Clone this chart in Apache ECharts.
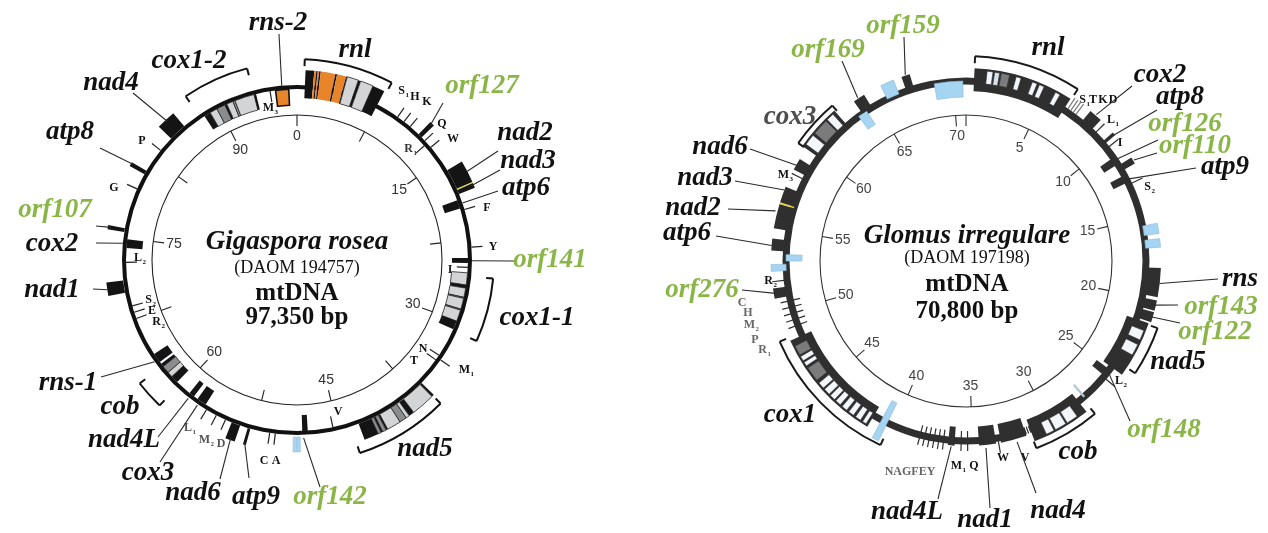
<!DOCTYPE html>
<html>
<head>
<meta charset="utf-8">
<script src="https://cdn.jsdelivr.net/npm/echarts@6/dist/echarts.min.js"></script>
<style>
html,body{margin:0;padding:0;background:#fff;}
#chart{width:1268px;height:533px;}
</style>
</head>
<body>
<div id="chart"></div>
<script>
// ---------- Gigaspora rosea mtDNA (kb positions, clockwise from top) ----------
const GR_LENGTH = 97.35;
const GR_TICK_LABELS = [0, 15, 30, 45, 60, 75, 90];

// [gene, start kb, end kb, strand track, part]
const GR_BLOCKS = [
  ['rnl', 0.70, 1.42, 'mid', 'k'], ['rnl', 1.42, 1.58, 'mid', 'o'], ['rnl', 1.58, 1.70, 'mid', 'k'],
  ['rnl', 1.70, 1.82, 'mid', 'o'], ['rnl', 1.82, 1.95, 'mid', 'k'], ['rnl', 1.95, 3.15, 'mid', 'o'],
  ['rnl', 3.15, 3.30, 'mid', 'k'], ['rnl', 3.30, 4.05, 'mid', 'o'], ['rnl', 4.05, 4.15, 'mid', 'k'],
  ['rnl', 4.15, 5.10, 'mid', 'lg'], ['rnl', 5.10, 5.30, 'mid', 'k'], ['rnl', 5.30, 6.38, 'mid', 'lg'],
  ['rnl', 6.38, 7.40, 'mid', 'k'],
  ['orf127', 11.9, 12.3, 'out', 'k'],
  ['nad2', 16.0, 17.85, 'out', 'k'], ['nad2', 17.85, 17.95, 'out', 'y'], ['nad3', 17.95, 18.35, 'out', 'k'],
  ['atp6', 18.8, 19.6, 'in', 'k'],
  ['orf141', 24.15, 24.6, 'in', 'k'],
  ['cox1-1', 25.5, 26.6, 'in', 'lg'], ['cox1-1', 26.6, 26.9, 'in', 'k'], ['cox1-1', 26.9, 27.75, 'in', 'lg'],
  ['cox1-1', 27.75, 27.85, 'in', 'g'], ['cox1-1', 27.85, 28.85, 'in', 'lg'], ['cox1-1', 28.85, 28.95, 'in', 'g'],
  ['cox1-1', 28.95, 30.0, 'in', 'lg'], ['cox1-1', 30.0, 30.8, 'in', 'k'],
  ['nad5', 36.4, 36.6, 'out', 'k'], ['nad5', 36.6, 38.55, 'out', 'lg'], ['nad5', 38.55, 39.0, 'out', 'k'],
  ['nad5', 39.0, 39.3, 'out', 'lg'], ['nad5', 39.3, 39.9, 'out', 'g'], ['nad5', 39.9, 41.05, 'out', 'lg'],
  ['nad5', 41.05, 41.2, 'out', 'k'], ['nad5', 41.2, 41.5, 'out', 'g'], ['nad5', 41.5, 41.65, 'out', 'k'],
  ['nad5', 41.65, 41.9, 'out', 'g'], ['nad5', 41.9, 43.1, 'out', 'k'],
  ['orf', 47.7, 48.2, 'in', 'k'],
  ['orf142', 48.4, 48.68, 'out', 'b'], ['orf142', 48.72, 49.0, 'out', 'b'],
  ['atp9', 52.85, 53.1, 'out', 'k'],
  ['nad6', 53.8, 54.6, 'out', 'k'],
  ['cox3', 57.4, 58.3, 'in', 'k'],
  ['nad4L', 58.7, 59.2, 'in', 'k'],
  ['cob', 60.7, 61.4, 'in', 'k'], ['cob', 61.4, 61.9, 'in', 'lg'], ['cob', 61.9, 62.6, 'in', 'g'], ['cob', 62.6, 62.9, 'in', 'k'],
  ['rns-1', 63.1, 64.0, 'in', 'k'],
  ['nad1', 70.1, 71.2, 'out', 'k'],
  ['cox2', 74.1, 74.9, 'in', 'k'],
  ['orf107', 75.5, 75.85, 'out', 'k'],
  ['atp8', 80.95, 81.3, 'out', 'k'],
  ['nad4', 84.9, 86.5, 'out', 'k'],
  ['cox1-2', 88.5, 89.1, 'in', 'k'], ['cox1-2', 89.1, 89.8, 'in', 'lg'], ['cox1-2', 89.8, 90.6, 'in', 'g'],
  ['cox1-2', 90.6, 90.8, 'in', 'k'], ['cox1-2', 90.8, 91.4, 'in', 'lg'], ['cox1-2', 91.4, 91.6, 'in', 'g'],
  ['cox1-2', 91.6, 93.4, 'in', 'lg'], ['cox1-2', 93.4, 93.6, 'in', 'k'],
  ['rns-2', 95.4, 96.6, 'in', 'ob']
];

// tRNA genes: [name, kb, track]
const GR_TRNAS = [
  ['S1', 9.5, 'out'], ['H', 10.2, 'out'], ['K', 10.9, 'out'], ['Q', 12.7, 'out'], ['R1', 13.0, 'in'],
  ['W', 13.5, 'out'], ['F', 19.8, 'out'], ['Y', 23.2, 'out'], ['I', 25.0, 'in'], ['N', 33.5, 'in'],
  ['M1', 33.75, 'out'], ['T', 34.0, 'in'], ['V', 45.4, 'in'], ['A', 50.6, 'out'], ['C', 51.1, 'out'],
  ['D', 55.2, 'out'], ['M2', 56.1, 'out'], ['L1', 57.1, 'out'], ['R2', 67.6, 'in'], ['E', 68.2, 'in'],
  ['S2', 68.8, 'in'], ['L2', 72.8, 'in'], ['G', 79.5, 'out'], ['P', 83.5, 'out'], ['M3', 94.9, 'in']
];

// bracketed multi-part genes: [gene, start kb, end kb]
const GR_BRACKETS = [['rnl', 0.6, 7.6], ['cox1-2', 88.1, 93.4], ['cox1-1', 25.8, 30.9], ['nad5', 36.5, 43.8], ['cob', 60.4, 62.7]];

// gene names: [name, kb the leader points to (null = no leader)]
const GR_LABELS = [
  ['rns-2', 96.0], ['rnl', null], ['cox1-2', null], ['nad4', 85.7], ['atp8', 81.2], ['orf107', 75.7],
  ['cox2', 74.5], ['nad1', 70.6], ['rns-1', 63.4], ['cob', null], ['nad4L', 59.0], ['cox3', 58.0],
  ['nad6', 54.2], ['atp9', 53.0], ['orf142', 48.1], ['nad5', null], ['cox1-1', null], ['orf141', 24.4],
  ['atp6', 19.2], ['nad3', 18.1], ['nad2', 16.9], ['orf127', 12.1]
];

// ---------- Glomus irregulare mtDNA ----------
const GI_LENGTH = 70.8;
const GI_TICK_LABELS = [5, 10, 15, 20, 25, 30, 35, 40, 45, 50, 55, 60, 65, 70];

const GI_BLOCKS = [
  ['rnl', 0.5, 6.45, 'mid', 'k'],
  ['cox2', 7.8, 8.6, 'out', 'k'],
  ['atp8', 9.6, 9.8, 'out', 'k'],
  ['orf126', 10.8, 11.3, 'in', 'k'],
  ['orf110', 11.4, 11.8, 'out', 'k'],
  ['atp9', 12.1, 12.6, 'in', 'k'],
  ['orf', 15.5, 16.1, 'out', 'b'], ['orf', 16.4, 16.9, 'out', 'b'],
  ['rns', 18.1, 19.8, 'out', 'k'],
  ['orf143', 20.0, 20.6, 'out', 'k'],
  ['orf122', 20.7, 21.3, 'out', 'k'],
  ['nad5', 21.4, 24.8, 'mid', 'k'],
  ['orf148', 25.0, 25.5, 'in', 'k'],
  ['orf', 27.25, 27.4, 'in', 'bg'],
  ['cob', 27.8, 31.3, 'mid', 'k'],
  ['nad4', 31.65, 33.25, 'inmid', 'k'],
  ['nad1', 33.55, 34.6, 'inmid', 'k'],
  ['nad4L', 36.1, 36.5, 'inmid', 'k'],
  ['cox1', 41.45, 48.3, 'mid', 'k'],
  ['orf', 40.5, 40.9, 'cross', 'b'],
  ['orf276', 50.9, 51.5, 'out', 'k'],
  ['orf', 52.5, 52.9, 'out', 'b'], ['orf', 53.1, 53.5, 'in', 'b'],
  ['atp6', 53.7, 54.4, 'out', 'k'],
  ['nad2', 55.0, 56.45, 'out', 'k'], ['nad2', 56.45, 56.55, 'out', 'y'], ['nad3', 56.55, 57.5, 'out', 'k'],
  ['nad6', 58.6, 59.3, 'out', 'k'],
  ['cox3', 60.0, 62.7, 'wide', 'k'],
  ['orf', 63.6, 64.2, 'in', 'b'],
  ['orf169', 63.9, 64.6, 'out', 'k'],
  ['orf', 65.7, 66.5, 'out', 'b'],
  ['orf159', 67.0, 67.5, 'out', 'k'],
  ['orf', 68.8, 70.6, 'in', 'b']
];

// exon/intron windows inside the large genes: [gene, start kb, end kb, part, track]
const GI_WINDOWS = [
  ['rnl', 1.25, 1.6, 'w', 'mid'], ['rnl', 1.7, 2.0, 'p', 'mid'], ['rnl', 2.1, 2.6, 'g', 'mid'], ['rnl', 3.0, 3.3, 'w', 'mid'],
  ['rnl', 4.0, 4.3, 'w', 'mid'], ['rnl', 4.45, 4.75, 'w', 'mid'], ['rnl', 5.5, 5.8, 'w', 'mid'],
  ['nad5', 21.9, 22.5, 'w', 'mid'], ['nad5', 22.8, 23.5, 'w', 'mid'],
  ['cob', 28.4, 29.1, 'w', 'mid'], ['cob', 29.2, 29.9, 'w', 'mid'], ['cob', 30.0, 30.5, 'w', 'mid'],
  ['cox1', 41.6, 41.85, 'w', 'mid'], ['cox1', 42.0, 42.35, 'w', 'mid'], ['cox1', 42.5, 42.85, 'w', 'mid'],
  ['cox1', 43.0, 43.35, 'w', 'mid'], ['cox1', 43.5, 43.85, 'w', 'mid'], ['cox1', 43.95, 44.3, 'w', 'mid'],
  ['cox1', 44.4, 44.8, 'w', 'mid'], ['cox1', 44.9, 45.3, 'w', 'mid'], ['cox1', 45.5, 46.4, 'g', 'mid'],
  ['cox1', 46.55, 46.8, 'w', 'mid'], ['cox1', 46.9, 47.2, 'w', 'mid'], ['cox1', 47.3, 47.9, 'g', 'mid'],
  ['cox3', 60.2, 60.85, 'w', 'wide'], ['cox3', 61.0, 61.95, 'g', 'wide'], ['cox3', 62.05, 62.5, 'w', 'wide']
];

const GI_TRNAS = [
  ['S1', 6.65, 'outg'], ['T', 6.85, 'outg'], ['K', 7.05, 'outg'], ['D', 7.25, 'outg'],
  ['L1', 8.9, 'out'], ['I', 10.1, 'out'], ['S2', 12.75, 'out'], ['L2', 25.6, 'out'],
  ['V', 31.4, 'gap'], ['V', 31.55, 'gap'], ['W', 33.4, 'out'],
  ['Q', 35.3, 'cross'], ['M1', 35.7, 'cross'],
  ['Y', 36.8, 'cross'], ['E', 37.1, 'cross'], ['F', 37.4, 'cross'], ['G', 37.7, 'cross'], ['A', 38.0, 'cross'], ['N', 38.3, 'cross'],
  ['R1', 49.0, 'cross'], ['P', 49.4, 'cross'], ['M2', 49.8, 'cross'], ['H', 50.2, 'cross'], ['C', 50.6, 'cross'],
  ['R2', 51.9, 'out'], ['M3', 58.35, 'out']
];

const GI_BRACKETS = [['rnl', 0.5, 6.5], ['cox3', 60.0, 62.8], ['cox1', 40.3, 48.5], ['cob', 27.5, 31.35], ['nad5', 21.5, 24.3]];

const GI_LABELS = [
  ['orf159', 67.25], ['orf169', 64.2], ['rnl', null], ['cox3', null], ['nad6', 58.9], ['nad3', 57.3],
  ['nad2', 56.0], ['atp6', 54.0], ['orf276', 51.2], ['cox1', null], ['nad4L', 36.3], ['nad1', 34.2],
  ['nad4', 32.3], ['cob', null], ['orf148', 25.25], ['nad5', null], ['orf122', 21.0], ['orf143', 20.3],
  ['rns', 19.0], ['atp9', 12.35], ['orf110', 11.6], ['orf126', 11.0], ['atp8', 9.7], ['cox2', 8.2]
];

// ---------- layout & styles ----------
const GREEN = '#8ab648';
const GENE_FONT = 'italic bold 27px "Liberation Serif"';
const TAG_FONT = 'bold 12px "Liberation Serif"';
const SUB_FONT = 'bold 7px "Liberation Serif"';
const TICK_FONT = '14px "Liberation Sans"';

const GR_LOOK = {
  ring: [171, 175], ringColor: '#111',
  tracks: { out: [175, 192], in: [155, 171], mid: [162, 190] },
  trna: { out: [175, 186, '#222'], in: [160, 171, '#222'] },
  fills: {
    k: { fill: '#141414' }, o: { fill: '#e8842a' },
    ob: { fill: '#e8842a', stroke: '#111', lw: 1.6 },
    lg: { fill: '#d3d4d6', stroke: '#222', lw: 0.8 }, g: { fill: '#8b8c8e', stroke: '#222', lw: 0.8 },
    y: { fill: '#e2d13c' }, b: { fill: '#a9d6f0', stroke: '#8dbfdc', lw: 0.6, inset: 2 }
  },
  bracketR: { 'rnl': 201, 'cox1-2': 198, 'cox1-1': 197, 'nad5': 203, 'cob': 200 },
  bracketColor: '#111', tickLabelR: 124, tickLabelColor: '#333',
  labels: {
    'rns-2': { x: 278, y: 23, r: 175, lx: 279, ly: 34 },
    'rnl': { x: 355, y: 50 },
    'cox1-2': { x: 189, y: 61 },
    'nad4': { x: 111, y: 83, r: 190, lx: 133, ly: 93 },
    'atp8': { x: 70, y: 132, r: 190, lx: 100, ly: 148 },
    'orf107': { x: 55, y: 210, r: 189, lx: 96, ly: 226, color: GREEN },
    'cox2': { x: 52, y: 244, r: 175, lx: 96, ly: 243 },
    'nad1': { x: 52, y: 290, r: 192, lx: 93, ly: 289 },
    'rns-1': { x: 68, y: 383, r: 175, lx: 101, ly: 377 },
    'cob': { x: 120, y: 407 },
    'nad4L': { x: 124, y: 440, r: 176, lx: 158, ly: 437 },
    'cox3': { x: 148, y: 473, r: 176, lx: 160, ly: 462 },
    'nad6': { x: 193, y: 493, r: 190, lx: 220, ly: 479 },
    'atp9': { x: 256, y: 497, r: 190, lx: 249, ly: 478 },
    'orf142': { x: 330, y: 497, r: 178, lx: 320, ly: 487, color: GREEN },
    'nad5': { x: 425, y: 449 },
    'cox1-1': { x: 537, y: 318 },
    'orf141': { x: 550, y: 260, r: 175, lx: 514, ly: 261, color: GREEN },
    'atp6': { x: 526, y: 188, r: 175, lx: 498, ly: 191 },
    'nad3': { x: 528, y: 161, r: 190, lx: 500, ly: 170 },
    'nad2': { x: 525, y: 133, r: 192, lx: 498, ly: 151 },
    'orf127': { x: 482, y: 86, r: 189, lx: 443, ly: 103, color: GREEN }
  }
};

const GI_LOOK = {
  ring: [176.5, 183.5], ringColor: '#2f2f2f',
  tracks: { out: [180, 195], in: [164, 180], mid: [170, 193], inmid: [166, 185], wide: [180, 200], cross: [158, 200] },
  windowR: { mid: [178, 191], wide: [183, 198] },
  trna: { out: [183, 195, '#2f2f2f'], outg: [183, 196, '#7a7a7a'], cross: [170, 190, '#2f2f2f'], gap: [168, 192, '#ffffff'] },
  fills: {
    k: { fill: '#2f2f2f' }, y: { fill: '#e2d13c' }, bg: { fill: '#b4c6d6' },
    b: { fill: '#a5d5f2', stroke: '#86b8d6', lw: 0.6 },
    w: { fill: '#f3f7fb', stroke: '#2f2f2f', lw: 0.6 }, p: { fill: '#d7e2ec', stroke: '#2f2f2f', lw: 0.6 },
    g: { fill: '#7b7b7b', stroke: '#2f2f2f', lw: 0.6 }
  },
  bracketR: { 'rnl': 205, 'cox3': 205, 'cox1': 203, 'cob': 200, 'nad5': 203 },
  bracketColor: '#1a1a1a', tickLabelR: 125, tickLabelColor: '#444',
  labels: {
    'orf159': { x: 903, y: 26, r: 196, lx: 904, ly: 37, color: GREEN },
    'orf169': { x: 828, y: 50, r: 196, lx: 842, ly: 61, color: GREEN },
    'rnl': { x: 1048, y: 48 },
    'cox3': { x: 790, y: 117, color: '#4d4d4d' },
    'nad6': { x: 720, y: 147, r: 194, lx: 750, ly: 149 },
    'nad3': { x: 705, y: 178, r: 195, lx: 735, ly: 181 },
    'nad2': { x: 693, y: 208, r: 197, lx: 728, ly: 209 },
    'atp6': { x: 687, y: 233, r: 195, lx: 716, ly: 236 },
    'orf276': { x: 702, y: 290, r: 193, lx: 742, ly: 290, color: GREEN },
    'cox1': { x: 790, y: 415 },
    'nad4L': { x: 907, y: 512, r: 186, lx: 938, ly: 499 },
    'nad1': { x: 985, y: 520, r: 188, lx: 990, ly: 508 },
    'nad4': { x: 1058, y: 511, r: 188, lx: 1036, ly: 493 },
    'cob': { x: 1078, y: 452 },
    'orf148': { x: 1164, y: 430, r: 183, lx: 1130, ly: 421, color: GREEN },
    'nad5': { x: 1178, y: 362 },
    'orf122': { x: 1215, y: 332, r: 193, lx: 1180, ly: 323, color: GREEN },
    'orf143': { x: 1221, y: 307, r: 193, lx: 1178, ly: 305, color: GREEN },
    'rns': { x: 1240, y: 279, r: 195, lx: 1218, ly: 279 },
    'atp9': { x: 1225, y: 167, r: 178, lx: 1196, ly: 168 },
    'orf110': { x: 1195, y: 146, r: 196, lx: 1157, ly: 153, color: GREEN },
    'orf126': { x: 1185, y: 124, r: 181, lx: 1158, ly: 140, color: GREEN },
    'atp8': { x: 1180, y: 97, r: 190, lx: 1157, ly: 110 },
    'cox2': { x: 1160, y: 75, r: 196, lx: 1132, ly: 86 }
  }
};

// tRNA letter tags: [letter, subscript, x, y, colour]
const GR_TAGS = [
  ['S', '1', 405, 91, '#111'], ['H', '', 415, 97, '#111'], ['K', '', 427, 102, '#111'], ['Q', '', 442, 124, '#111'],
  ['W', '', 453, 139, '#111'], ['R', '1', 413, 149, '#333'], ['F', '', 487, 208, '#111'], ['Y', '', 493, 247, '#111'],
  ['I', '', 450, 270, '#222'], ['N', '', 423, 349, '#111'], ['T', '', 414, 361, '#111'], ['M', '1', 470, 370, '#111'],
  ['V', '', 338, 412, '#111'], ['C', '', 264, 461, '#111'], ['A', '', 276, 461, '#111'],
  ['L', '1', 192, 428, '#555'], ['M', '2', 210, 440, '#555'], ['D', '', 221, 444, '#555'],
  ['S', '2', 152, 300, '#111'], ['E', '', 152, 311, '#111'], ['R', '2', 161, 322, '#111'],
  ['L', '2', 142, 258, '#111'], ['G', '', 114, 188, '#111'], ['P', '', 142, 141, '#111'], ['M', '3', 274, 108, '#111']
];
const GI_TAGS = [
  ['S', '1', 1086, 100, '#111'], ['T', '', 1093, 100, '#111'], ['K', '', 1103, 100, '#111'], ['D', '', 1113, 100, '#111'],
  ['L', '1', 1115, 120, '#111'], ['I', '', 1120, 143, '#111'], ['S', '2', 1151, 187, '#111'], ['L', '2', 1123, 381, '#111'],
  ['W', '', 1003, 458, '#111'], ['V', '', 1025, 458, '#111'], ['M', '1', 962, 466, '#111'], ['Q', '', 974, 466, '#111'],
  ['NAGFEY', '', 910, 472, '#666'],
  ['C', '', 742, 303, '#666'], ['H', '', 748, 313, '#666'], ['M', '2', 755, 325, '#666'], ['P', '', 755, 340, '#666'],
  ['R', '1', 767, 350, '#666'], ['R', '2', 773, 281, '#111'], ['M', '3', 789, 175, '#111']
];

// ---------- drawing helpers (all positions go through the polar axes) ----------
function screenAngle(api, cs, kb) {
  const p = api.coord([100, kb]);
  return Math.atan2(p[1] - cs.cy, p[0] - cs.cx);
}
function pixelRadius(api, cs, r) {
  const p = api.coord([r, 0]);
  return Math.hypot(p[0] - cs.cx, p[1] - cs.cy);
}
function sectorEl(api, cs, s, e, r0, r1, st) {
  const a0 = screenAngle(api, cs, s);
  let a1 = screenAngle(api, cs, e);
  while (a1 <= a0) a1 += Math.PI * 2;
  return {
    type: 'sector',
    shape: { cx: cs.cx, cy: cs.cy, r0: pixelRadius(api, cs, r0), r: pixelRadius(api, cs, r1), startAngle: a0, endAngle: a1, clockwise: true },
    style: { fill: st.fill, stroke: st.stroke || null, lineWidth: st.lw || 0 }
  };
}

function buildMap(m) {
  const L = m.look;
  const base = { type: 'custom', coordinateSystem: 'polar', polarIndex: m.polarIndex, silent: true, animation: false };
  const out = [];

  // backbone
  out.push(Object.assign({}, base, {
    z: 2, data: [[L.ring[1], 0]],
    renderItem(params, api) {
      const cs = params.coordSys;
      return { type: 'ring', shape: { cx: cs.cx, cy: cs.cy, r0: pixelRadius(api, cs, L.ring[0]), r: pixelRadius(api, cs, L.ring[1]) }, style: { fill: L.ringColor } };
    }
  }));

  // gene blocks
  out.push(Object.assign({}, base, {
    z: 3, data: m.blocks.map(b => [L.tracks[b[3]][1], b[1]]),
    renderItem(params, api) {
      const cs = params.coordSys;
      const b = m.blocks[params.dataIndex];
      const tr = L.tracks[b[3]];
      const st = L.fills[b[4]];
      return sectorEl(api, cs, b[1], b[2], tr[0] + (st.inset || 0), tr[1], st);
    }
  }));

  // windows inside large genes
  if (m.windows.length) {
    out.push(Object.assign({}, base, {
      z: 4, data: m.windows.map(w => [L.windowR[w[4]][1], w[1]]),
      renderItem(params, api) {
        const cs = params.coordSys;
        const w = m.windows[params.dataIndex];
        const rr = L.windowR[w[4]];
        return sectorEl(api, cs, w[1], w[2], rr[0], rr[1], L.fills[w[3]]);
      }
    }));
  }

  // tRNA ticks
  out.push(Object.assign({}, base, {
    z: 5, data: m.trnas.map(t => [L.trna[t[2]][1], t[1]]),
    renderItem(params, api) {
      const t = m.trnas[params.dataIndex];
      const tr = L.trna[t[2]];
      const p0 = api.coord([tr[0], t[1]]), p1 = api.coord([tr[1], t[1]]);
      return { type: 'line', shape: { x1: p0[0], y1: p0[1], x2: p1[0], y2: p1[1] }, style: { stroke: tr[2], lineWidth: 1.2 } };
    }
  }));

  // brackets
  out.push(Object.assign({}, base, {
    z: 5, data: m.brackets.map(b => [L.bracketR[b[0]], b[1]]),
    renderItem(params, api) {
      const cs = params.coordSys;
      const b = m.brackets[params.dataIndex];
      const r = L.bracketR[b[0]];
      const a0 = screenAngle(api, cs, b[1]);
      let a1 = screenAngle(api, cs, b[2]);
      while (a1 <= a0) a1 += Math.PI * 2;
      const s0 = api.coord([r, b[1]]), s1 = api.coord([r - 7, b[1]]);
      const e0 = api.coord([r, b[2]]), e1 = api.coord([r - 7, b[2]]);
      const ls = { stroke: L.bracketColor, lineWidth: 2, fill: null };
      return {
        type: 'group', children: [
          { type: 'arc', shape: { cx: cs.cx, cy: cs.cy, r: pixelRadius(api, cs, r), startAngle: a0, endAngle: a1, clockwise: true }, style: ls },
          { type: 'line', shape: { x1: s0[0], y1: s0[1], x2: s1[0], y2: s1[1] }, style: ls },
          { type: 'line', shape: { x1: e0[0], y1: e0[1], x2: e1[0], y2: e1[1] }, style: ls }
        ]
      };
    }
  }));

  // gene names with leader lines
  out.push(Object.assign({}, base, {
    z: 6, data: m.labels.map(l => [L.labels[l[0]].r || 200, l[1] == null ? 0 : l[1]]),
    renderItem(params, api) {
      const l = m.labels[params.dataIndex];
      const lay = L.labels[l[0]];
      const kids = [];
      if (l[1] != null) {
        const p = api.coord([lay.r, l[1]]);
        kids.push({ type: 'line', shape: { x1: lay.lx, y1: lay.ly, x2: p[0], y2: p[1] }, style: { stroke: '#2a2a2a', lineWidth: 1.1 } });
      }
      kids.push({ type: 'text', x: lay.x, y: lay.y, style: { text: l[0], font: GENE_FONT, fill: lay.color || '#111', align: 'center', verticalAlign: 'middle' } });
      return { type: 'group', children: kids };
    }
  }));

  // scale labels (kb)
  out.push(Object.assign({}, base, {
    z: 6, data: m.ticks.map(v => [L.tickLabelR, v]),
    renderItem(params, api) {
      const v = m.ticks[params.dataIndex];
      const p = api.coord([L.tickLabelR, v]);
      return { type: 'text', x: p[0], y: p[1], style: { text: String(v), font: TICK_FONT, fill: L.tickLabelColor, align: 'center', verticalAlign: 'middle' } };
    }
  }));
  return out;
}

function tagElements(tags) {
  const els = [];
  tags.forEach(t => {
    const [txt, sub, x, y, col] = t;
    if (sub) {
      els.push({ type: 'text', x: x, y: y, silent: true, style: { text: txt, font: TAG_FONT, fill: col, align: 'right', verticalAlign: 'middle' } });
      els.push({ type: 'text', x: x + 0.5, y: y + 4, silent: true, style: { text: sub, font: SUB_FONT, fill: col, align: 'left', verticalAlign: 'middle' } });
    } else {
      els.push({ type: 'text', x: x, y: y, silent: true, style: { text: txt, font: TAG_FONT, fill: col, align: 'center', verticalAlign: 'middle' } });
    }
  });
  return els;
}

function centreText(txt, x, y, font) {
  return { type: 'text', x: x, y: y, silent: true, style: { text: txt, font: font, fill: '#111', align: 'center', verticalAlign: 'middle' } };
}

const GR = { polarIndex: 0, ticks: GR_TICK_LABELS, blocks: GR_BLOCKS, windows: [], trnas: GR_TRNAS, brackets: GR_BRACKETS, labels: GR_LABELS, look: GR_LOOK };
const GI = { polarIndex: 1, ticks: GI_TICK_LABELS, blocks: GI_BLOCKS, windows: GI_WINDOWS, trnas: GI_TRNAS, brackets: GI_BRACKETS, labels: GI_LABELS, look: GI_LOOK };

function angleAxisFor(idx, len, interval, color) {
  return {
    polarIndex: idx, type: 'value', min: 0, max: len, interval: interval, startAngle: 90, clockwise: true,
    axisLine: { show: true, lineStyle: { color: color, width: 1.1 } },
    axisTick: { show: true, inside: true, length: 11, lineStyle: { color: color, width: 1.1 } },
    axisLabel: { show: false }, splitLine: { show: false }, splitArea: { show: false }
  };
}
function radiusAxisFor(idx, r) {
  return { polarIndex: idx, type: 'value', min: 0, max: r, axisLine: { show: false }, axisTick: { show: false }, axisLabel: { show: false }, splitLine: { show: false } };
}

const chart = echarts.init(document.getElementById('chart'), null, { renderer: 'canvas', width: 1268, height: 533 });
chart.setOption({
  animation: false,
  backgroundColor: '#ffffff',
  polar: [{ center: [297, 260], radius: 145 }, { center: [966, 261], radius: 146 }],
  angleAxis: [angleAxisFor(0, GR_LENGTH, 7.5, '#222'), angleAxisFor(1, GI_LENGTH, 5, '#333')],
  radiusAxis: [radiusAxisFor(0, 145), radiusAxisFor(1, 146)],
  graphic: {
    elements: [
      centreText('Gigaspora rosea', 297, 242, 'italic bold 27px "Liberation Serif"'),
      centreText('(DAOM 194757)', 297, 268, '18px "Liberation Serif"'),
      centreText('mtDNA', 297, 294, 'bold 25px "Liberation Serif"'),
      centreText('97,350 bp', 297, 318, 'bold 25px "Liberation Serif"'),
      centreText('Glomus irregulare', 967, 236, 'italic bold 27px "Liberation Serif"'),
      centreText('(DAOM 197198)', 967, 258, '18px "Liberation Serif"'),
      centreText('mtDNA', 967, 285, 'bold 25px "Liberation Serif"'),
      centreText('70,800 bp', 967, 312, 'bold 25px "Liberation Serif"')
    ].concat(tagElements(GR_TAGS), tagElements(GI_TAGS))
  },
  series: buildMap(GR).concat(buildMap(GI))
});
</script>
</body>
</html>
